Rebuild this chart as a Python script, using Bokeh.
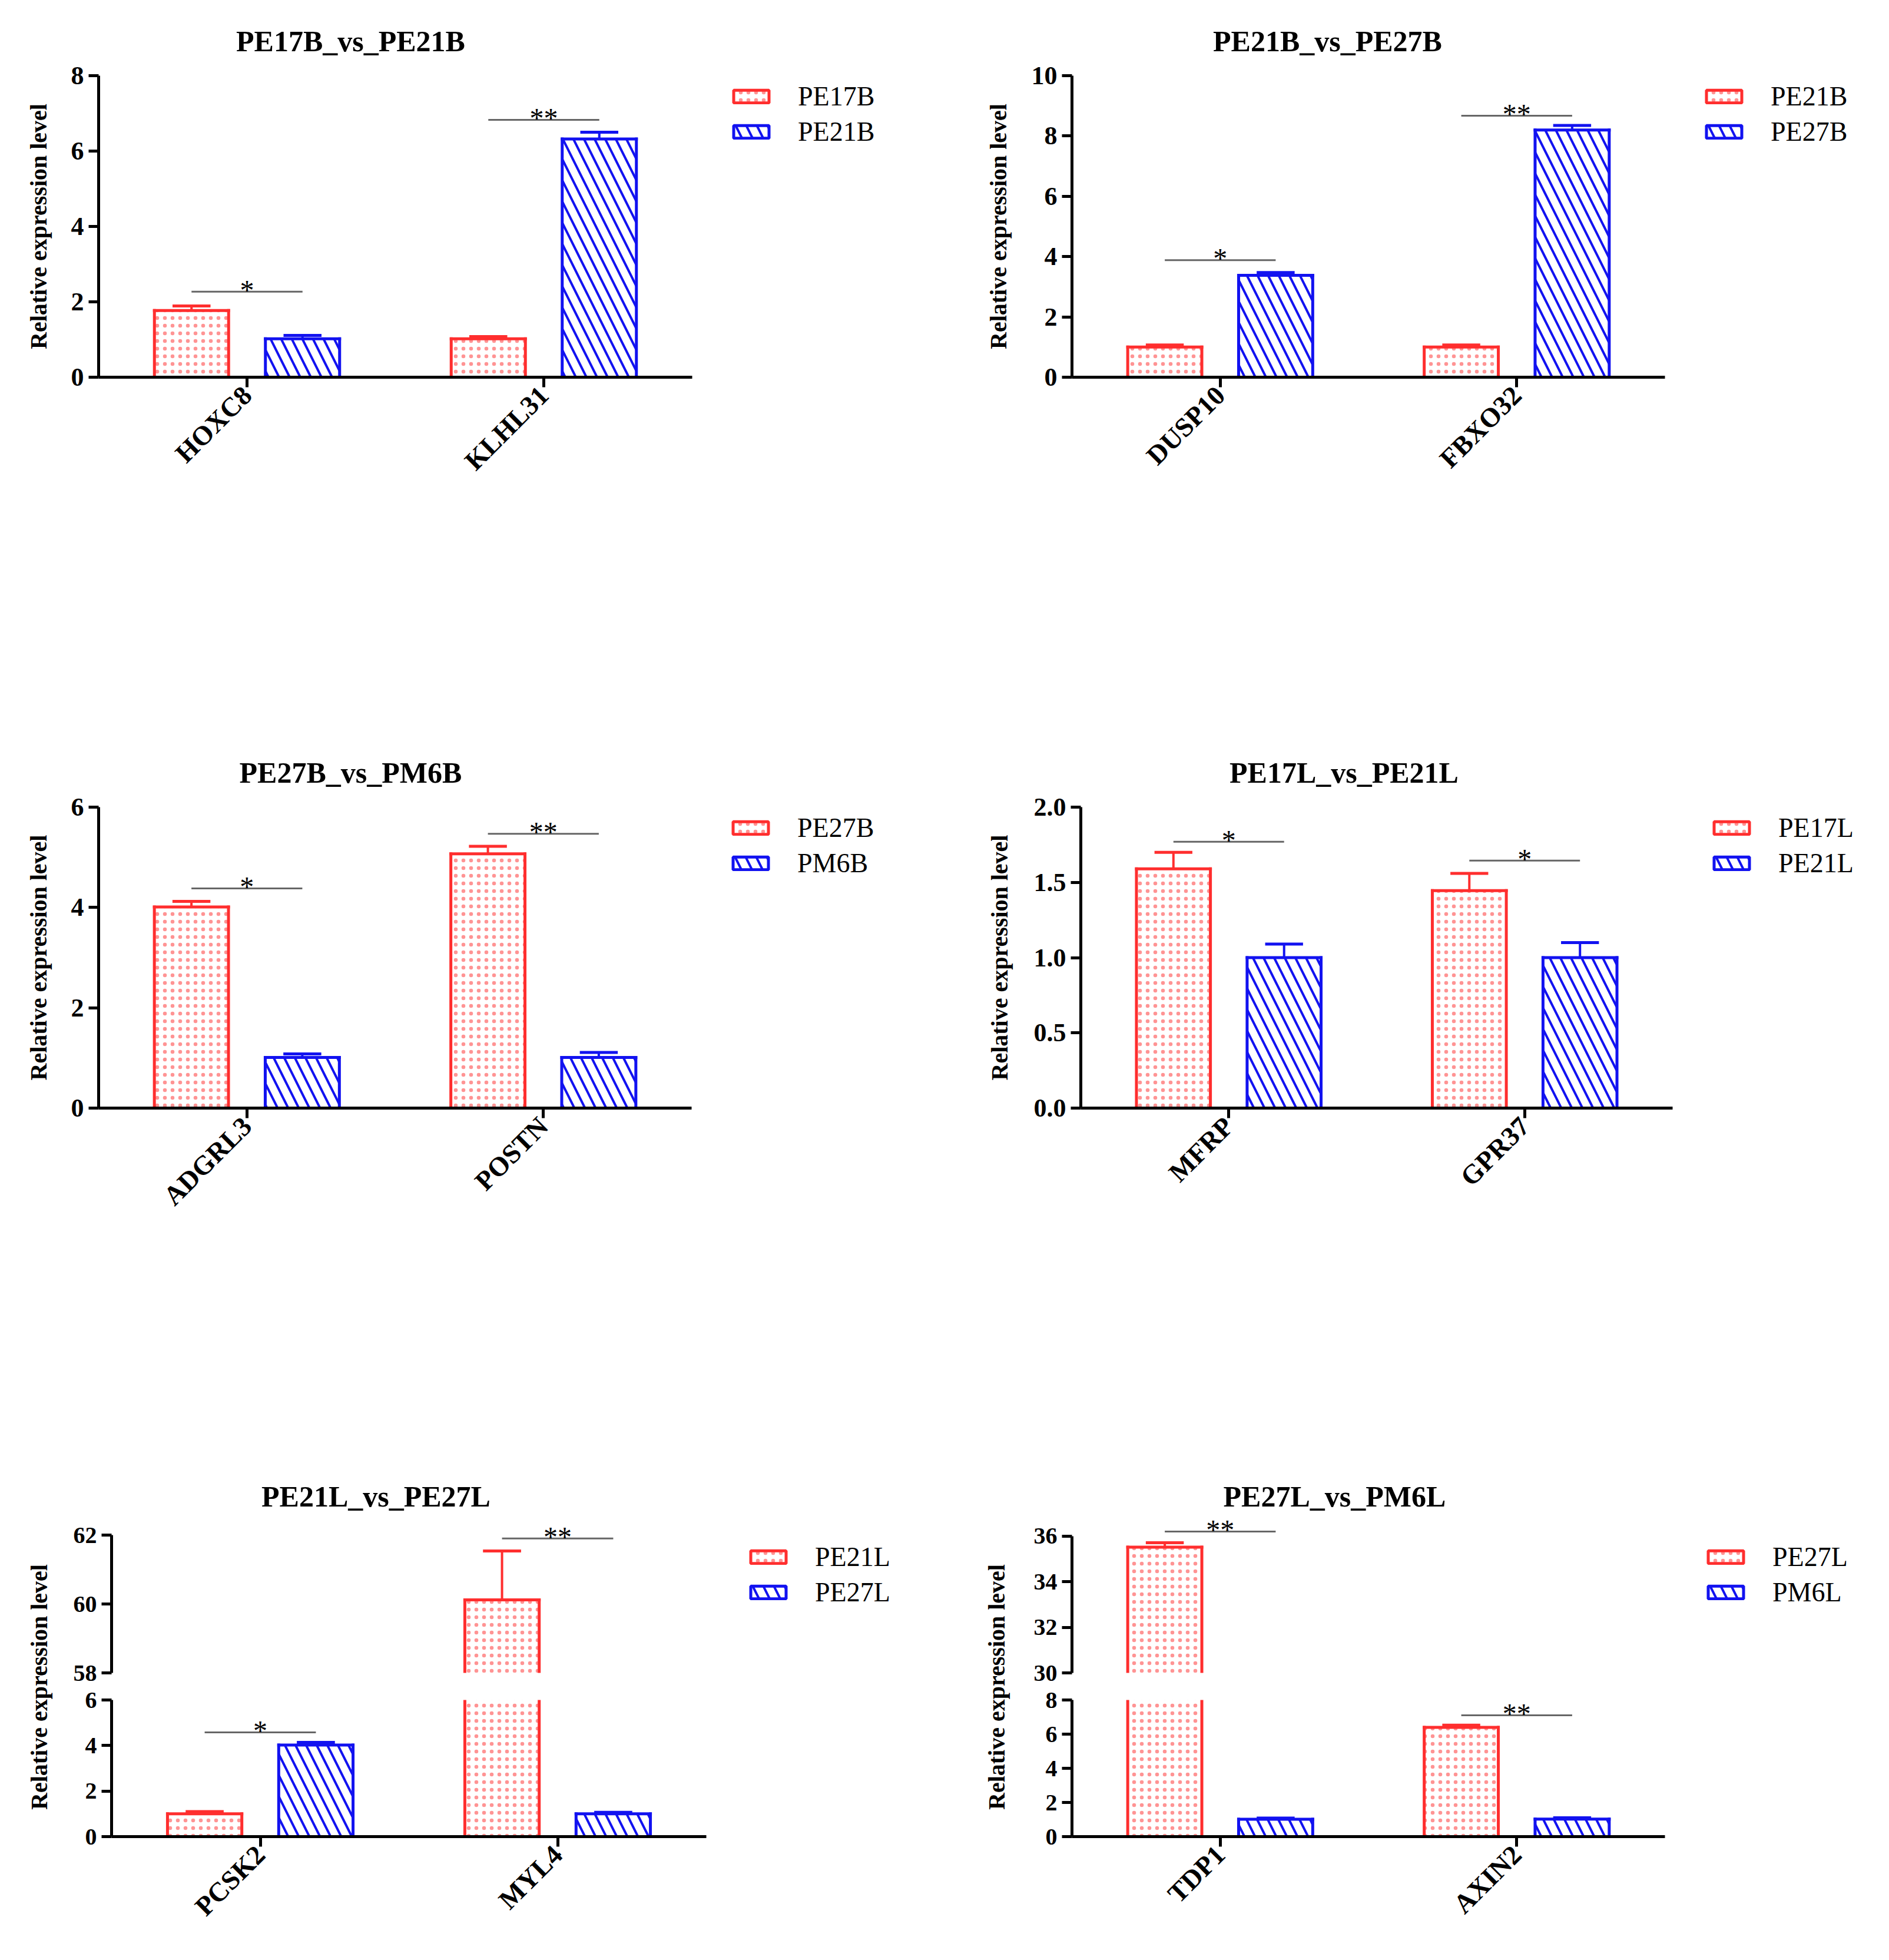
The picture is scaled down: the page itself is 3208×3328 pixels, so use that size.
from math import pi
from bokeh.plotting import figure
from bokeh.models import Range1d, FixedTicker, Legend, LegendItem, PrintfTickFormatter
from bokeh.layouts import row, column
from bokeh.embed import file_html
from bokeh.resources import INLINE
from bokeh.core.properties import value

# ---------------- data ----------------
titles = ["PE17B_vs_PE21B", "PE21B_vs_PE27B", "PE27B_vs_PM6B",
          "PE17L_vs_PE21L", "PE21L_vs_PE27L", "PE27L_vs_PM6L"]
y_label = "Relative expression level"

p1_genes = ["HOXC8", "KLHL31"]
p1_groups = ["PE17B", "PE21B"]
p1_first = [1.77, 1.02]
p1_first_err = [0.12, 0.06]
p1_second = [1.02, 6.32]
p1_second_err = [0.09, 0.18]
p1_sig = ["*", "**"]
p1_sig_y = [2.27, 6.83]
p1_yticks = [0, 2, 4, 6, 8]

p2_genes = ["DUSP10", "FBXO32"]
p2_groups = ["PE21B", "PE27B"]
p2_first = [1.0, 1.0]
p2_first_err = [0.07, 0.07]
p2_second = [3.38, 8.2]
p2_second_err = [0.09, 0.15]
p2_sig = ["*", "**"]
p2_sig_y = [3.88, 8.67]
p2_yticks = [0, 2, 4, 6, 8, 10]

p3_genes = ["ADGRL3", "POSTN"]
p3_groups = ["PE27B", "PM6B"]
p3_first = [4.01, 5.07]
p3_first_err = [0.11, 0.15]
p3_second = [1.01, 1.01]
p3_second_err = [0.07, 0.10]
p3_sig = ["*", "**"]
p3_sig_y = [4.38, 5.47]
p3_yticks = [0, 2, 4, 6]

p4_genes = ["MFRP", "GPR37"]
p4_groups = ["PE17L", "PE21L"]
p4_first = [1.59, 1.445]
p4_first_err = [0.11, 0.115]
p4_second = [1.0, 1.0]
p4_second_err = [0.09, 0.10]
p4_sig = ["*", "*"]
p4_sig_y = [1.77, 1.645]
p4_yticks = [0.0, 0.5, 1.0, 1.5, 2.0]

p5_genes = ["PCSK2", "MYL4"]
p5_groups = ["PE21L", "PE27L"]
p5_first = [1.0, 60.12]
p5_first_err = [0.10, 1.42]
p5_second = [4.02, 1.0]
p5_second_err = [0.12, 0.07]
p5_sig = ["*", "**"]
p5_sig_y = [4.58, 61.9]
p5_low_ticks = [0, 2, 4, 6]
p5_up_ticks = [58, 60, 62]

p6_genes = ["TDP1", "AXIN2"]
p6_groups = ["PE27L", "PM6L"]
p6_first = [35.52, 6.4]
p6_first_err = [0.19, 0.13]
p6_second = [1.02, 1.03]
p6_second_err = [0.07, 0.07]
p6_sig = ["**", "**"]
p6_sig_y = [36.2, 7.1]
p6_low_ticks = [0, 2, 4, 6, 8]
p6_up_ticks = [30, 32, 34, 36]

# ---------------- style ----------------
FONT = "Liberation Serif"
RED = "#ff2e2e"
DOT = "#ff9494"
BLUE = "#1212f0"
SIG = "#666666"
OFF = 0.187
BW = 0.25
CAP = 0.064
TITLE_PX = 50
# approximate advance widths (em) of the bold serif titles, for left-aligned centring
TITLE_EM = [7.78, 7.78, 7.56, 7.78, 7.78, 7.56]

RED_STYLE = dict(fill_color="white", hatch_pattern=".", hatch_color=DOT,
                 hatch_scale=13, hatch_weight=1)
BLUE_STYLE = dict(fill_color="white", hatch_pattern="\\", hatch_color=BLUE,
                  hatch_scale=36, hatch_weight=4)


def new_fig(W, H, L, T, FH, DW, y_start, y_end, x_range=None):
    R = 12
    FW = W - L - R
    ppu = DW / 2.0
    if x_range is None:
        x_range = Range1d(-0.5, -0.5 + FW / ppu)
    p = figure(width=W, height=H, x_range=x_range, y_range=Range1d(y_start, y_end),
               min_border_left=L, min_border_right=R, min_border_top=T,
               min_border_bottom=H - T - FH, toolbar_location=None,
               output_backend="svg")
    p.xgrid.visible = False
    p.ygrid.visible = False
    p.outline_line_color = None
    p.background_fill_color = "white"
    p.border_fill_color = "white"
    return p


def style_y(p, ticks, fmt=None, size=44):
    ya = p.yaxis[0]
    ya.ticker = FixedTicker(ticks=ticks)
    ya.bounds = (ticks[0], ticks[-1])
    ya.axis_line_width = 5
    ya.axis_line_color = "black"
    ya.major_tick_line_width = 5
    ya.major_tick_out = 17
    ya.major_tick_in = 0
    ya.minor_tick_line_color = None
    ya.major_label_text_font = FONT
    ya.major_label_text_font_style = "bold"
    ya.major_label_text_font_size = f"{size}px"
    ya.major_label_text_color = "black"
    ya.major_label_standoff = 8
    if fmt:
        ya.formatter = PrintfTickFormatter(format=fmt)


def style_x(p, genes):
    xa = p.xaxis[0]
    xa.ticker = FixedTicker(ticks=list(range(len(genes))))
    xa.major_label_overrides = {i: g for i, g in enumerate(genes)}
    xa.bounds = (-0.5, len(genes) - 0.5)
    xa.axis_line_width = 5
    xa.axis_line_color = "black"
    xa.major_tick_line_width = 5
    xa.major_tick_out = 17
    xa.major_tick_in = 0
    xa.minor_tick_line_color = None
    xa.major_label_orientation = pi / 4
    xa.major_label_text_font = FONT
    xa.major_label_text_font_style = "bold"
    xa.major_label_text_font_size = "46px"
    xa.major_label_text_color = "black"
    xa.major_label_standoff = 6


def add_title(p, k, dx, standoff):
    p.title.text = titles[k]
    p.title.align = "left"
    p.title.offset = dx - TITLE_EM[k] * TITLE_PX / 2.0
    p.title.standoff = standoff
    p.title.text_font = FONT
    p.title.text_font_style = "bold"
    p.title.text_font_size = f"{TITLE_PX}px"
    p.title.text_color = "black"


def add_bars(p, genes, first, first_err, second, second_err, sig, sig_y, lo, hi):
    """Bars of both groups, their error bars and the significance marks, for a
    figure whose y range shows the values between lo and hi."""
    idx = list(range(len(genes)))
    legend_rs = []
    for off, vals, errs, col, st in ((-OFF, first, first_err, RED, RED_STYLE),
                                     (OFF, second, second_err, BLUE, BLUE_STYLE)):
        xs = [i + off for i in idx]
        # invisible, outlined copy used for the legend swatch
        legend_rs.append(p.vbar(x=xs, top=vals, bottom=0, width=BW, line_color=col,
                                line_width=5, visible=False, **st))
        keep = [k for k in idx if vals[k] > lo]
        kx = [xs[k] for k in keep]
        kv = [vals[k] for k in keep]
        # fill + hatch only (outline drawn below so that a cut bar stays open)
        p.vbar(x=kx, top=kv, bottom=0, width=BW, line_alpha=0, **st)
        y_bot = [max(0, lo) for _ in kv]
        y_top = [min(v, hi) for v in kv]
        for side in (-BW / 2, BW / 2):
            sx = [x + side for x in kx]
            p.segment(x0=sx, y0=y_bot, x1=sx, y1=y_top, line_color=col,
                      line_width=5, line_cap="square")
        inside = [k for k in keep if vals[k] <= hi]
        tx = [xs[k] for k in inside]
        tv = [vals[k] for k in inside]
        te = [vals[k] + errs[k] for k in inside]
        p.segment(x0=[x - BW / 2 for x in tx], y0=tv, x1=[x + BW / 2 for x in tx], y1=tv,
                  line_color=col, line_width=5, line_cap="square")
        p.segment(x0=tx, y0=tv, x1=tx, y1=te, line_color=col, line_width=4)
        p.segment(x0=[x - CAP for x in tx], y0=te, x1=[x + CAP for x in tx], y1=te,
                  line_color=col, line_width=5)
    sk = [k for k in idx if lo <= sig_y[k] <= hi]
    p.segment(x0=[k - OFF for k in sk], y0=[sig_y[k] for k in sk],
              x1=[k + OFF for k in sk], y1=[sig_y[k] for k in sk],
              line_color=SIG, line_width=3)
    p.text(x=sk, y=[sig_y[k] for k in sk], text=[sig[k] for k in sk],
           text_align="center", text_baseline="alphabetic", y_offset=-3,
           text_font=value(FONT), text_font_size="48px", text_color="black")
    return legend_rs


def add_legend(p, rs, groups, lx, ly):
    lg = Legend(items=[LegendItem(label=groups[0], renderers=[rs[0]]),
                       LegendItem(label=groups[1], renderers=[rs[1]])],
                location=(lx, ly))
    lg.click_policy = "none"
    lg.background_fill_alpha = 0
    lg.border_line_alpha = 0
    lg.padding = 0
    lg.margin = 0
    lg.spacing = 7
    lg.glyph_width = 75
    lg.glyph_height = 27
    lg.label_height = 52
    lg.label_standoff = 42
    lg.label_text_font = FONT
    lg.label_text_font_size = "46px"
    lg.label_text_color = "black"
    p.add_layout(lg)


def normal_panel(k, genes, groups, first, first_err, second, second_err, sig, sig_y,
                 yticks, W, L, T, FH, DW, title_dx, standoff, fmt=None):
    H = 1246
    p = new_fig(W, H, L, T, FH, DW, yticks[0], yticks[-1])
    style_y(p, yticks, fmt)
    style_x(p, genes)
    ya = p.yaxis[0]
    ya.axis_label = y_label
    ya.axis_label_text_font = FONT
    ya.axis_label_text_font_style = "bold"
    ya.axis_label_text_font_size = "40px"
    ya.axis_label_text_color = "black"
    ya.axis_label_standoff = standoff
    rs = add_bars(p, genes, first, first_err, second, second_err, sig, sig_y,
                  yticks[0], yticks[-1])
    add_legend(p, rs, groups, DW + 63, FH - 11 - 111)
    add_title(p, k, title_dx, 61)
    return p


def broken_panel(k, genes, groups, first, first_err, second, second_err, sig, sig_y,
                 up_ticks, up_end, low_ticks, W, L, DW, label_w, label_x, title_dx, leg_dx):
    UH, UT, UFH = 371, 76, 272
    LH, LT, LFH = 441, 23, 232
    up = new_fig(W, UH, L, UT, UFH, DW, up_ticks[0], up_end)
    low = new_fig(W, LH, L, LT, LFH, DW, low_ticks[0], low_ticks[-1], x_range=up.x_range)
    style_y(up, up_ticks, size=40)
    style_y(low, low_ticks, size=40)
    up.xaxis.visible = False
    style_x(low, genes)
    rs = add_bars(up, genes, first, first_err, second, second_err, sig, sig_y,
                  up_ticks[0], up_end)
    add_bars(low, genes, first, first_err, second, second_err, sig, sig_y,
             low_ticks[0], low_ticks[-1])
    add_legend(up, rs, groups, DW + leg_dx, UFH - 51 - 111)
    add_title(up, k, title_dx, 0)
    total_h = UH + LH
    lab = figure(width=label_w, height=total_h, x_range=Range1d(0, label_w),
                 y_range=Range1d(0, total_h), x_axis_type=None, y_axis_type=None,
                 min_border=0, toolbar_location=None, output_backend="svg")
    lab.outline_line_color = None
    lab.xgrid.visible = False
    lab.ygrid.visible = False
    lab.text(x=[label_x], y=[total_h - 372], text=[y_label], angle=pi / 2,
             text_align="center", text_baseline="middle", text_font=value(FONT),
             text_font_style="bold", text_font_size="40px", text_color="black")
    return row(lab, column(up, low))


f1 = normal_panel(0, p1_genes, p1_groups, p1_first, p1_first_err, p1_second,
                  p1_second_err, p1_sig, p1_sig_y, p1_yticks,
                  W=1604, L=167, T=128, FH=512, DW=1008, title_dx=428, standoff=30)
f2 = normal_panel(1, p2_genes, p2_groups, p2_first, p2_first_err, p2_second,
                  p2_second_err, p2_sig, p2_sig_y, p2_yticks,
                  W=1580, L=216, T=128, FH=512, DW=1007, title_dx=434, standoff=31)
f3 = normal_panel(2, p3_genes, p3_groups, p3_first, p3_first_err, p3_second,
                  p3_second_err, p3_sig, p3_sig_y, p3_yticks,
                  W=1604, L=167, T=124, FH=511, DW=1007, title_dx=428, standoff=30)
f4 = normal_panel(3, p4_genes, p4_groups, p4_first, p4_first_err, p4_second,
                  p4_second_err, p4_sig, p4_sig_y, p4_yticks,
                  W=1580, L=231, T=124, FH=511, DW=1005, title_dx=447, standoff=33,
                  fmt="%.1f")
f5 = broken_panel(4, p5_genes, p5_groups, p5_first, p5_first_err, p5_second,
                  p5_second_err, p5_sig, p5_sig_y, p5_up_ticks, 62.65, p5_low_ticks,
                  W=1504, L=89, DW=1010, label_w=100, label_x=66, title_dx=449, leg_dx=68)
f6 = broken_panel(5, p6_genes, p6_groups, p6_first, p6_first_err, p6_second,
                  p6_second_err, p6_sig, p6_sig_y, p6_up_ticks, 37.03, p6_low_ticks,
                  W=1460, L=96, DW=1007, label_w=120, label_x=88, title_dx=446, leg_dx=66)

layout = column(row(f1, f2), row(f3, f4), row(f5, f6))
open("out.html", "w").write(file_html(layout, INLINE))
